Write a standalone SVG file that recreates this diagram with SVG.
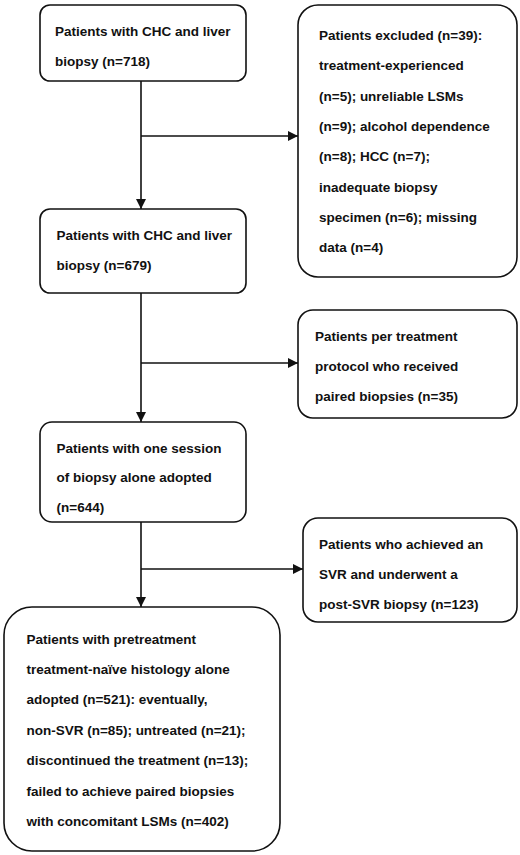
<svg xmlns="http://www.w3.org/2000/svg" width="520" height="855" viewBox="0 0 520 855">
<style>
.box{fill:#fff;stroke:#111;stroke-width:1.6}
.t{font-family:"Liberation Sans",Arial,sans-serif;font-weight:bold;font-size:13.5px;fill:#111}
.c{stroke:#111;stroke-width:1.6;fill:none}
</style>
<defs>
<marker id="ah" viewBox="0 0 10 10" refX="10" refY="5" markerWidth="10" markerHeight="10" markerUnits="userSpaceOnUse" orient="auto">
<path d="M0,0 L10,5 L0,10 z" fill="#111"/>
</marker>
</defs>
<rect width="520" height="855" fill="#fff"/>
<g id="connectors">
<line class="c" x1="141" y1="81" x2="141" y2="209" marker-end="url(#ah)"/>
<line class="c" x1="141" y1="136" x2="298" y2="136" marker-end="url(#ah)"/>
<line class="c" x1="141" y1="293" x2="141" y2="422" marker-end="url(#ah)"/>
<line class="c" x1="141" y1="363" x2="298" y2="363" marker-end="url(#ah)"/>
<line class="c" x1="141" y1="522" x2="141" y2="607" marker-end="url(#ah)"/>
<line class="c" x1="141" y1="569" x2="303" y2="569" marker-end="url(#ah)"/>
</g>
<g id="n1">
<rect class="box" x="40" y="5" width="206" height="76" rx="10"/>
<text class="t" x="55" y="36">Patients with CHC and liver</text>
<text class="t" x="55" y="66">biopsy (n=718)</text>
</g>
<g id="n2">
<rect class="box" x="298" y="5" width="219" height="272" rx="20"/>
<text class="t" x="319" y="39.5">Patients excluded (n=39):</text>
<text class="t" x="319" y="70">treatment-experienced</text>
<text class="t" x="319" y="100.5">(n=5); unreliable LSMs</text>
<text class="t" x="319" y="130.5">(n=9); alcohol dependence</text>
<text class="t" x="319" y="161">(n=8); HCC (n=7);</text>
<text class="t" x="319" y="191.5">inadequate biopsy</text>
<text class="t" x="319" y="222">specimen (n=6); missing</text>
<text class="t" x="319" y="252">data (n=4)</text>
</g>
<g id="n3">
<rect class="box" x="40" y="209" width="206" height="84" rx="10"/>
<text class="t" x="56.5" y="239.5">Patients with CHC and liver</text>
<text class="t" x="56.5" y="269.5">biopsy (n=679)</text>
</g>
<g id="n4">
<rect class="box" x="298" y="310" width="219" height="108" rx="15"/>
<text class="t" x="315" y="340.5">Patients per treatment</text>
<text class="t" x="315" y="371">protocol who received</text>
<text class="t" x="315" y="401">paired biopsies (n=35)</text>
</g>
<g id="n5">
<rect class="box" x="40" y="422" width="206" height="100" rx="12"/>
<text class="t" x="56.5" y="452.5">Patients with one session</text>
<text class="t" x="56.5" y="482">of biopsy alone adopted</text>
<text class="t" x="56.5" y="512">(n=644)</text>
</g>
<g id="n6">
<rect class="box" x="303" y="518" width="214" height="104" rx="15"/>
<text class="t" x="319" y="548.5">Patients who achieved an</text>
<text class="t" x="319" y="579">SVR and underwent a</text>
<text class="t" x="319" y="609">post-SVR biopsy (n=123)</text>
</g>
<g id="n7">
<rect class="box" x="4" y="607" width="276" height="244" rx="28"/>
<text class="t" x="26.5" y="643.5">Patients with pretreatment</text>
<text class="t" x="26.5" y="674">treatment-naïve histology alone</text>
<text class="t" x="26.5" y="704">adopted (n=521): eventually,</text>
<text class="t" x="26.5" y="734.5">non-SVR (n=85); untreated (n=21);</text>
<text class="t" x="26.5" y="765">discontinued the treatment (n=13);</text>
<text class="t" x="26.5" y="795.5">failed to achieve paired biopsies</text>
<text class="t" x="26.5" y="826">with concomitant LSMs (n=402)</text>
</g>
</svg>
